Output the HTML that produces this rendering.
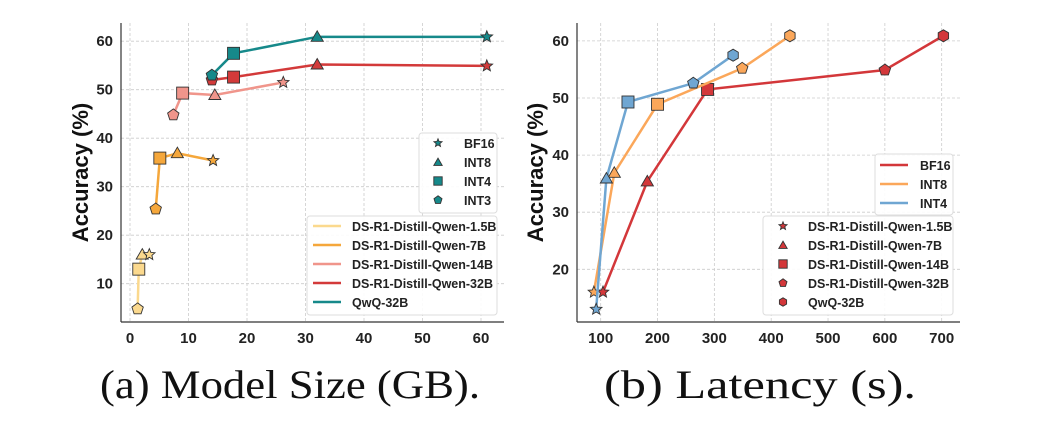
<!DOCTYPE html>
<html><head><meta charset="utf-8"><style>
body{margin:0;background:#fff;}
svg{display:block;font-family:"Liberation Sans",sans-serif;}
.tk{font-size:15px;font-weight:bold;fill:#222;}
.lg{font-size:12.5px;font-weight:bold;fill:#222;}
.cap{font-family:"Liberation Serif",serif;font-size:40px;fill:#111;}
</style></head><body>
<svg id="c" width="1037" height="422" viewBox="0 0 1037 422"></svg>
<script>
const models=["DS-R1-Distill-Qwen-1.5B","DS-R1-Distill-Qwen-7B","DS-R1-Distill-Qwen-14B","DS-R1-Distill-Qwen-32B","QwQ-32B"];
const quants=["BF16","INT8","INT4","INT3"];
// size (GB) per model, order INT3, INT4, INT8, BF16
const sizeGB=[[1.3,1.5,2.1,3.3],[4.4,5.1,8.1,14.2],[7.4,9,14.5,26.2],[14,17.7,32,61],[14,17.7,32,61]];
const sizeAcc=[[4.8,13,16,16],[25.4,35.9,36.9,35.4],[44.8,49.3,48.9,51.5],[52,52.6,55.2,54.9],[53,57.5,60.9,60.9]];
const sizeQuant=["INT3","INT4","INT8","BF16"];
// latency per quant (BF16, INT8, INT4), points per model
const latQuants=["BF16","INT8","INT4"];
const latS=[[104,182,288,600,703],[88,124,200,349,433],[92,110,148,263,333]];
const latAcc=[[16,35.4,51.5,54.9,60.9],[16,36.9,48.9,55.2,60.9],[13,35.9,49.3,52.6,57.5]];
const xTicksA=[0,10,20,30,40,50,60], yTicksA=[10,20,30,40,50,60];
const xTicksB=[100,200,300,400,500,600,700], yTicksB=[20,30,40,50,60];

const modelCol=["#fbd98e","#f5a73b","#f0958b","#d33a3a","#16898a"];
const quantCol={"BF16":"#d3373a","INT8":"#fba75a","INT4":"#6fa6d2"};
const quantMk={"BF16":"star","INT8":"tri","INT4":"sq","INT3":"pent"};
const modelMk=["star","tri","sq","pent","hex"];
const S=document.getElementById('c');
const NS="http://www.w3.org/2000/svg";
function el(t,a,p){const e=document.createElementNS(NS,t);for(const k in a)e.setAttribute(k,a[k]);(p||S).appendChild(e);return e;}
function poly(n,r,cx,cy,rot,inner){let pts=[];const m=inner?n*2:n;for(let i=0;i<m;i++){const rr=inner&&i%2?r*inner:r;const a=rot+i*2*Math.PI/m;pts.push((cx+rr*Math.sin(a)).toFixed(1)+","+(cy-rr*Math.cos(a)).toFixed(1));}return pts.join(" ");}
function marker(k,x,y,col,s,g){s=s||1;let e;
 if(k==="star")e=el('polygon',{points:poly(5,6*s,x,y,0,0.45)},g);
 else if(k==="tri")e=el('polygon',{points:poly(3,7*s,x,y+1,0)},g);
 else if(k==="sq")e=el('rect',{x:x-6*s,y:y-6*s,width:12*s,height:12*s},g);
 else if(k==="pent")e=el('polygon',{points:poly(5,6*s,x,y,0)},g);
 else e=el('polygon',{points:poly(6,6*s,x,y,0)},g);
 e.setAttribute('fill',col);e.setAttribute('stroke','#333');e.setAttribute('stroke-width','0.9');return e;}
function axes(o){
 const g=el('g',{});
 o.xt.forEach(v=>{const x=o.X(v);el('line',{x1:x,x2:x,y1:o.t,y2:o.b,stroke:'#ccc','stroke-dasharray':'3,2','stroke-width':0.8},g);
  const t=el('text',{x:x,y:o.b+21,'text-anchor':'middle',class:'tk'},g);t.textContent=v;});
 o.yt.forEach(v=>{const y=o.Y(v);el('line',{x1:o.l,x2:o.r,y1:y,y2:y,stroke:'#ccc','stroke-dasharray':'3,2','stroke-width':0.8},g);
  const t=el('text',{x:o.l-8,y:y+5,'text-anchor':'end',class:'tk'},g);t.textContent=v;});
 el('line',{x1:o.l,x2:o.l,y1:o.t,y2:o.b,stroke:'#333','stroke-width':1.2},g);
 el('line',{x1:o.l,x2:o.r,y1:o.b,y2:o.b,stroke:'#333','stroke-width':1.2},g);
 const yl=el('text',{x:0,y:0,transform:`translate(${o.yl},${(o.t+o.b)/2}) rotate(-90)`,'text-anchor':'middle','font-size':'22','font-weight':'bold',fill:'#111'},g);
 yl.textContent="Accuracy (%)";
 const c=el('text',{x:o.cx-o.cw/2,y:398,class:'cap',textLength:o.cw,lengthAdjust:'spacingAndGlyphs'},g);c.textContent=o.cap;
 return g;}
function legendBox(x,y,w,h,name){const b=el('rect',{x:x,y:y,width:w,height:h,rx:3,fill:'#fff','fill-opacity':0.9,stroke:'#ddd'});}
// Panel A
const A={l:121,r:504,t:23,b:322,X:v=>130+v*5.85,Y:v=>283.7-(v-10)*4.85,xt:xTicksA,yt:yTicksA,name:'size-panel',yl:88,cx:290,cw:380,cap:"(a) Model Size (GB)."};
axes(A);
models.forEach((m,i)=>{const g=el('g',{});
 el('polyline',{points:sizeGB[i].map((v,j)=>A.X(v)+","+A.Y(sizeAcc[i][j])).join(" "),fill:'none',stroke:modelCol[i],'stroke-width':2.5},g);
 sizeGB[i].forEach((v,j)=>{const mk=marker(quantMk[sizeQuant[j]],A.X(v),A.Y(sizeAcc[i][j]),modelCol[i],1,g);});});
legendBox(419,133,78,80,'legend-quant');
["BF16","INT8","INT4","INT3"].forEach((q,i)=>{const y=143+i*19;marker(quantMk[q],438,y,'#16898a',0.7);const t=el('text',{x:464,y:y+5,class:'lg'});t.textContent=q;});
legendBox(307,216,190,99,'legend-model');
models.forEach((m,i)=>{const y=226+i*19;el('line',{x1:313,x2:341,y1:y,y2:y,stroke:modelCol[i],'stroke-width':2.5});const t=el('text',{x:352,y:y+5,class:'lg'});t.textContent=m;});
// Panel B
const B={l:577,r:960,t:23,b:322,X:v=>600.7+(v-100)*0.5683,Y:v=>269.3-(v-20)*5.71,xt:xTicksB,yt:yTicksB,name:'latency-panel',yl:543,cx:760,cw:312,cap:"(b) Latency (s)."};
axes(B);
latQuants.forEach((q,i)=>{const g=el('g',{});
 el('polyline',{points:latS[i].map((v,j)=>B.X(v)+","+B.Y(latAcc[i][j])).join(" "),fill:'none',stroke:quantCol[q],'stroke-width':2.5},g);
 latS[i].forEach((v,j)=>{const mk=marker(modelMk[j],B.X(v),B.Y(latAcc[i][j]),quantCol[q],1,g);});});
legendBox(875,154,78,61,'legend-quant');
latQuants.forEach((q,i)=>{const y=165+i*19;el('line',{x1:880,x2:908,y1:y,y2:y,stroke:quantCol[q],'stroke-width':2.5});const t=el('text',{x:920,y:y+5,class:'lg'});t.textContent=q;});
legendBox(763,216,190,99,'legend-model');
models.forEach((m,i)=>{const y=226+i*19;marker(modelMk[i],783,y,'#d3373a',0.7);const t=el('text',{x:808,y:y+5,class:'lg'});t.textContent=m;});
</script>
</body></html>
